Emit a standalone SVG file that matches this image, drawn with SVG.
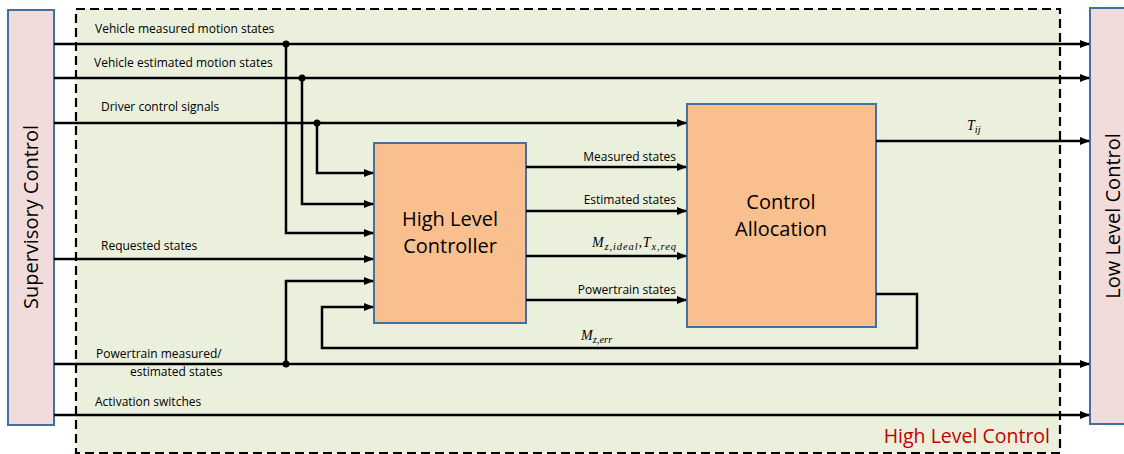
<svg xmlns="http://www.w3.org/2000/svg" width="1124" height="454" viewBox="0 0 1124 454">
<defs>
<marker id="ah" markerWidth="10" markerHeight="8" refX="9" refY="4" orient="auto" markerUnits="userSpaceOnUse">
<path d="M0,0 L10,4 L0,8 z" fill="#000"/>
</marker>
<style>
.side{fill:#f2dcdb;stroke:#41719c;stroke-width:2}
.blk{fill:#f9bf8f;stroke:#41719c;stroke-width:2}
.ln{fill:none;stroke:#000;stroke-width:2.5}
.arr{marker-end:url(#ah)}
.lbl{font-family:"Open Sans","Liberation Sans",sans-serif;font-size:12px;fill:#000}
.big{font-family:"Open Sans","Liberation Sans",sans-serif;font-size:20px;fill:#000}
.math{font-family:"Liberation Serif",serif;font-style:italic;font-size:14px;fill:#000}
.sub{font-size:10.5px}
</style>
</defs>
<rect width="1124" height="454" fill="#fff"/>
<g id="high-level-control">
<rect x="76" y="9" width="984" height="444" fill="#ebf0dd" stroke="#000" stroke-width="2.2" stroke-dasharray="9,5"/>
<text x="1050" y="443" text-anchor="end" font-family="'Open Sans','Liberation Sans',sans-serif" font-size="19.5" fill="#c00000">High Level Control</text>
</g>
<g id="supervisory-control">
<rect class="side" x="8" y="10" width="46" height="415"/>
<text class="big" transform="translate(38,217) rotate(-90)" text-anchor="middle">Supervisory Control</text>
</g>
<g id="low-level-control">
<rect class="side" x="1090" y="8" width="40" height="416"/>
<text class="big" transform="translate(1120,216) rotate(-90)" text-anchor="middle">Low Level Control</text>
</g>
<g id="high-level-controller">
<rect class="blk" x="374" y="143" width="152" height="180"/>
<text class="big" x="450" y="226" text-anchor="middle">High Level</text>
<text class="big" x="450" y="253" text-anchor="middle">Controller</text>
</g>
<g id="control-allocation">
<rect class="blk" x="687" y="104" width="189" height="223"/>
<text class="big" x="781" y="209" text-anchor="middle">Control</text>
<text class="big" x="781" y="236" text-anchor="middle">Allocation</text>
</g>
<g id="connectors">
<line class="ln arr" x1="54" y1="44" x2="1089" y2="44"/>
<line class="ln arr" x1="54" y1="78" x2="1089" y2="78"/>
<line class="ln arr" x1="54" y1="123" x2="686" y2="123"/>
<line class="ln arr" x1="54" y1="259" x2="373" y2="259"/>
<line class="ln arr" x1="54" y1="364" x2="1089" y2="364"/>
<line class="ln arr" x1="54" y1="415" x2="1089" y2="415"/>
<polyline class="ln arr" points="317,123 317,173 373,173"/>
<polyline class="ln arr" points="302,78 302,204 373,204"/>
<polyline class="ln arr" points="286,44 286,233 373,233"/>
<polyline class="ln arr" points="286,364 286,281 373,281"/>
<polyline class="ln arr" points="876,294 917,294 917,348 322,348 322,307 373,307"/>
<line class="ln arr" x1="526" y1="167" x2="686" y2="167"/>
<line class="ln arr" x1="526" y1="211" x2="686" y2="211"/>
<line class="ln arr" x1="526" y1="256" x2="686" y2="256"/>
<line class="ln arr" x1="526" y1="300" x2="686" y2="300"/>
<line class="ln arr" x1="876" y1="141" x2="1089" y2="141"/>
<circle cx="286" cy="44" r="3.5" fill="#000"/>
<circle cx="302" cy="78" r="3.5" fill="#000"/>
<circle cx="317" cy="123" r="3.5" fill="#000"/>
<circle cx="286" cy="364" r="3.5" fill="#000"/>
</g>
<g id="labels">
<text class="lbl" x="95" y="33">Vehicle measured motion states</text>
<text class="lbl" x="94" y="67">Vehicle estimated motion states</text>
<text class="lbl" x="101" y="111">Driver control signals</text>
<text class="lbl" x="101" y="250">Requested states</text>
<text class="lbl" x="96" y="358">Powertrain measured/</text>
<text class="lbl" x="130" y="376">estimated states</text>
<text class="lbl" x="95" y="406">Activation switches</text>
<text class="lbl" x="676" y="161" text-anchor="end">Measured states</text>
<text class="lbl" x="676" y="204" text-anchor="end">Estimated states</text>
<text class="lbl" x="676" y="294" text-anchor="end">Powertrain states</text>
<text class="math" x="592" y="247" textLength="84">M<tspan class="sub" dy="3">z,ideal</tspan><tspan dy="-3">,T</tspan><tspan class="sub" dy="3">x,req</tspan></text>
<text class="math" x="581" y="340">M<tspan class="sub" dy="3">z,err</tspan></text>
<text class="math" x="967" y="130">T<tspan class="sub" dy="3">ij</tspan></text>
</g>
</svg>
